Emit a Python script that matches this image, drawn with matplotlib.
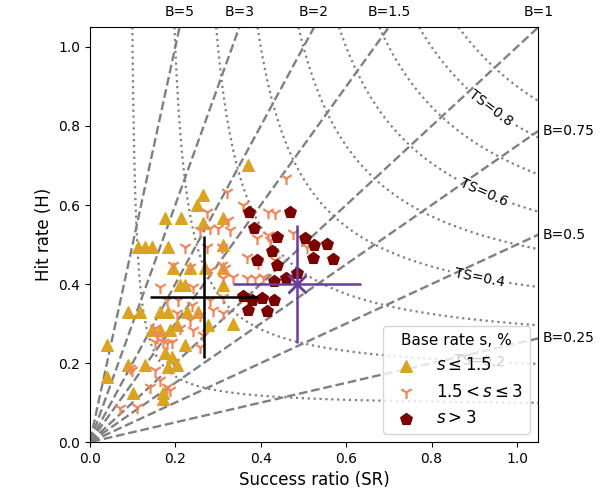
import numpy as np
import matplotlib
matplotlib.use('Agg')
from matplotlib import pyplot as plt

# точки по классам базовой частоты (SR, H)
low_sr = [0.37, 0.265, 0.25, 0.176, 0.213, 0.265, 0.311, 0.112, 0.129, 0.145, 0.183, 0.311,
          0.194, 0.234, 0.269, 0.311, 0.211, 0.222, 0.311, 0.089, 0.117, 0.164, 0.183, 0.227,
          0.253, 0.335, 0.145, 0.164, 0.187, 0.276, 0.204, 0.04, 0.176, 0.192, 0.204, 0.222,
          0.089, 0.129, 0.040, 0.183, 0.10, 0.171, 0.171]
low_h = [0.70, 0.625, 0.60, 0.567, 0.567, 0.554, 0.567, 0.494, 0.494, 0.494, 0.494, 0.50,
         0.44, 0.44, 0.44, 0.44, 0.397, 0.397, 0.397, 0.329, 0.329, 0.329, 0.329, 0.329,
         0.329, 0.30, 0.284, 0.284, 0.284, 0.296, 0.296, 0.246, 0.225, 0.215, 0.195, 0.246,
         0.195, 0.195, 0.165, 0.19, 0.124, 0.11, 0.124]

mid_sr = [0.459, 0.321, 0.358, 0.417, 0.433, 0.274, 0.323, 0.258, 0.281, 0.30, 0.328, 0.417,
          0.475, 0.391, 0.421, 0.222, 0.274, 0.309, 0.508, 0.368, 0.393, 0.433, 0.194, 0.234,
          0.309, 0.281, 0.316, 0.311, 0.368, 0.386, 0.335, 0.405, 0.164, 0.18, 0.206, 0.241,
          0.281, 0.311, 0.239, 0.204, 0.234, 0.258, 0.288, 0.311, 0.152, 0.171, 0.192, 0.241,
          0.265, 0.098, 0.14, 0.164, 0.18, 0.187, 0.07, 0.11, 0.152, 0.258, 0.152, 0.169,
          0.157, 0.18, 0.21, 0.094]
mid_h = [0.668, 0.633, 0.60, 0.582, 0.58, 0.582, 0.562, 0.537, 0.542, 0.542, 0.537, 0.524,
         0.529, 0.516, 0.511, 0.494, 0.494, 0.494, 0.494, 0.468, 0.453, 0.461, 0.448, 0.443,
         0.448, 0.435, 0.44, 0.415, 0.415, 0.415, 0.418, 0.418, 0.392, 0.36, 0.36, 0.392,
         0.36, 0.367, 0.347, 0.327, 0.309, 0.322, 0.334, 0.327, 0.253, 0.253, 0.253, 0.284,
         0.271, 0.182, 0.14, 0.157, 0.14, 0.132, 0.086, 0.089, 0.182, 0.24, 0.29, 0.27,
         0.265, 0.252, 0.288, 0.187]

high_sr = [0.372, 0.468, 0.384, 0.438, 0.503, 0.525, 0.555, 0.426, 0.522, 0.569, 0.391,
           0.438, 0.485, 0.459, 0.431, 0.358, 0.379, 0.403, 0.431, 0.370, 0.414]
high_h = [0.582, 0.582, 0.542, 0.519, 0.516, 0.499, 0.501, 0.484, 0.466, 0.463, 0.461,
          0.448, 0.428, 0.415, 0.408, 0.370, 0.36, 0.365, 0.36, 0.334, 0.332]

# средние и разброс
mean_black = (0.267, 0.367)
err_black = (0.127, 0.155)
mean_purple = (0.485, 0.40)
err_purple = (0.15, 0.15)

bias_levels = [0.25, 0.5, 0.75, 1, 1.5, 2, 3, 5]
ts_odd = [0.1, 0.3, 0.5, 0.7, 0.9]
ts_even = [0.2, 0.4, 0.6, 0.8]  # подписанные
ts_label_pos = [(0.913, 0.233), (0.913, 0.423), (0.92, 0.625), (0.93, 0.833)]

fig = plt.figure(figsize=(6.07, 4.94), dpi=100)
ax = fig.add_axes([0.148, 0.105, 0.739, 0.84])

lim = 1.05
sr = np.linspace(0.001, lim, 400)
hr = np.linspace(0.001, lim, 400)
SR, HR = np.meshgrid(sr, hr)
TS = 1 / (1 / SR + 1 / HR - 1)
BIAS = HR / SR

ax.contour(SR, HR, TS, levels=ts_odd, colors='gray', linestyles=':', linewidths=1.6)
cs_ts = ax.contour(SR, HR, TS, levels=ts_even, colors='gray', linestyles=':', linewidths=1.6)
ax.clabel(cs_ts, manual=ts_label_pos, fmt='TS=%.1f', fontsize=10, colors='k', inline=True)
ax.contour(SR, HR, BIAS, levels=bias_levels, colors='gray', linestyles='--', linewidths=1.7)

for b in bias_levels:
    if b >= 1:
        ax.text(lim / b, lim + 0.02, f'B={b:g}', ha='center', va='bottom', fontsize=10)
    else:
        ax.text(lim + 0.01, lim * b, f'B={b:g}', ha='left', va='center', fontsize=10)

ax.scatter(low_sr, low_h, marker='^', s=70, color='#D9A521', label=r'$s \leq 1.5$', zorder=3)
ax.scatter(mid_sr, mid_h, marker='1', s=90, color='#F0875A', linewidths=1.6,
           label=r'$1.5 < s \leq 3$', zorder=3)
ax.scatter(high_sr, high_h, marker='p', s=75, color='#7A0000', label=r'$s > 3$', zorder=3)

ax.errorbar(mean_black[0], mean_black[1], xerr=err_black[0], yerr=err_black[1],
            color='k', lw=1.8, zorder=4)
ax.errorbar(mean_purple[0], mean_purple[1], xerr=err_purple[0], yerr=err_purple[1],
            color='#6A3D9A', lw=1.8, marker='x', markersize=13, mew=2, zorder=4)

ax.set_xlim(0, lim)
ax.set_ylim(0, lim)
ax.set_xlabel('Success ratio (SR)', fontsize=12)
ax.set_ylabel('Hit rate (H)', fontsize=12)
ax.tick_params(labelsize=10)

ax.legend(loc='lower right', title='Base rate s, %', fontsize=12, title_fontsize=11)

plt.savefig('out.png', dpi=100)
